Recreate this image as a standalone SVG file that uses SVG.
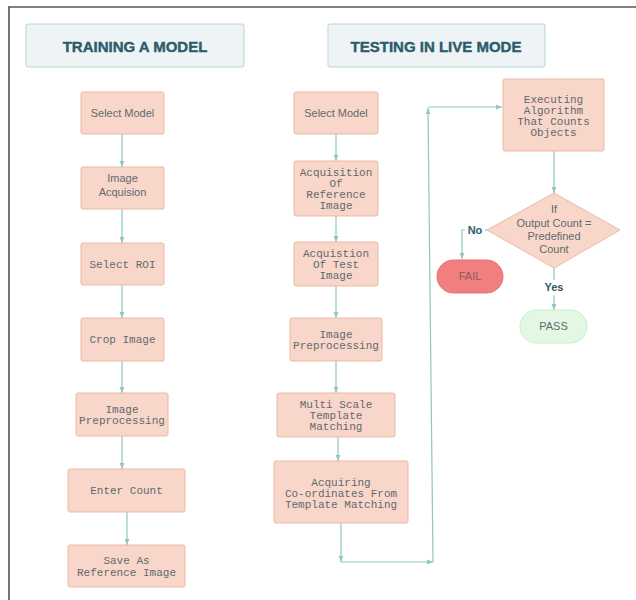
<svg xmlns="http://www.w3.org/2000/svg" width="636" height="600" viewBox="0 0 636 600">
<defs>
<marker id="ah" viewBox="0 0 10 10" refX="10" refY="5" markerWidth="6" markerHeight="6" markerUnits="userSpaceOnUse" orient="auto">
<path d="M0,1 L10,5 L0,9 Z" fill="#8fc7c1"/>
</marker>
<style>
.title{fill:#eef4f5;stroke:#b5d6d2;stroke-width:1}
.tt{font-family:"Liberation Sans",Arial,sans-serif;font-weight:bold;font-size:15px;fill:#2d5b6b;stroke:#2d5b6b;stroke-width:0.4;text-anchor:middle}
.box{fill:#f9d6ca;stroke:#ecb7a6;stroke-width:1}
.s{font-family:"Liberation Sans",Arial,sans-serif;font-size:11px;fill:#5e6a6e;text-anchor:middle}
.m{font-family:"Liberation Mono","Courier New",monospace;font-size:11px;fill:#5e6a6e;text-anchor:middle}
.c{fill:none;stroke:#8fc7c1;stroke-width:1.2}
.lbl{font-family:"Liberation Sans",Arial,sans-serif;font-weight:bold;font-size:11px;fill:#2d5b6b;text-anchor:middle}
</style>
</defs>
<rect width="636" height="600" fill="#ffffff"/>
<g id="frame">
<line x1="8" y1="7" x2="636" y2="7" stroke="#555" stroke-width="1.6"/>
<line x1="9" y1="7" x2="9" y2="600" stroke="#666" stroke-width="1.8"/>
</g>
<g id="connectors">
<line class="c" x1="122" y1="134" x2="122" y2="167" marker-end="url(#ah)"/>
<line class="c" x1="122" y1="209" x2="122" y2="243" marker-end="url(#ah)"/>
<line class="c" x1="122" y1="285" x2="122" y2="318" marker-end="url(#ah)"/>
<line class="c" x1="122" y1="361" x2="122" y2="393" marker-end="url(#ah)"/>
<line class="c" x1="122" y1="436" x2="122" y2="469" marker-end="url(#ah)"/>
<line class="c" x1="127" y1="512" x2="127" y2="545" marker-end="url(#ah)"/>
<line class="c" x1="336" y1="134" x2="336" y2="161" marker-end="url(#ah)"/>
<line class="c" x1="336" y1="216" x2="336" y2="242" marker-end="url(#ah)"/>
<line class="c" x1="336" y1="286" x2="336" y2="318" marker-end="url(#ah)"/>
<line class="c" x1="336" y1="361" x2="336" y2="393" marker-end="url(#ah)"/>
<line class="c" x1="338" y1="437" x2="338" y2="461" marker-end="url(#ah)"/>
<line class="c" x1="341" y1="523" x2="341" y2="562" marker-end="url(#ah)"/>
<line class="c" x1="341" y1="562" x2="433" y2="562" marker-end="url(#ah)"/>
<line class="c" x1="433" y1="562" x2="428" y2="108" marker-end="url(#ah)"/>
<line class="c" x1="428" y1="107" x2="502" y2="107" marker-end="url(#ah)"/>
<line class="c" x1="554" y1="151" x2="554" y2="193" marker-end="url(#ah)"/>
<polyline class="c" points="487,230 462,230 462,259" marker-end="url(#ah)"/>
<line class="c" x1="554" y1="268" x2="554" y2="310" marker-end="url(#ah)"/>
<rect x="465" y="222" width="20" height="15" fill="#ffffff"/>
<text class="lbl" x="475" y="234">No</text>
<rect x="542" y="280" width="24" height="15" fill="#ffffff"/>
<text class="lbl" x="554" y="291">Yes</text>
</g>
<g id="title-training">
<rect class="title" x="26" y="24" width="218" height="43" rx="2"/>
<text class="tt" x="135" y="52">TRAINING A MODEL</text>
</g>
<g id="title-testing">
<rect class="title" x="328" y="24" width="217" height="43" rx="2"/>
<text class="tt" x="436" y="52">TESTING IN LIVE MODE</text>
</g>
<g id="t-select-model">
<rect class="box" x="81" y="92" width="83" height="42" rx="2"/>
<text class="s" x="122.5" y="117">Select Model</text>
</g>
<g id="t-image-acquision">
<rect class="box" x="81" y="167" width="83" height="42" rx="2"/>
<text class="s" x="122.5" y="182">Image</text>
<text class="s" x="122.5" y="196">Acquision</text>
</g>
<g id="t-select-roi">
<rect class="box" x="81" y="243" width="83" height="42" rx="2"/>
<text class="m" x="122.5" y="268">Select ROI</text>
</g>
<g id="t-crop-image">
<rect class="box" x="81" y="318" width="83" height="43" rx="2"/>
<text class="m" x="122.5" y="343">Crop Image</text>
</g>
<g id="t-image-preprocessing">
<rect class="box" x="76" y="393" width="92" height="43" rx="2"/>
<text class="m" x="122" y="413">Image</text>
<text class="m" x="122" y="424">Preprocessing</text>
</g>
<g id="t-enter-count">
<rect class="box" x="68" y="469" width="117" height="43" rx="2"/>
<text class="m" x="126.5" y="494">Enter Count</text>
</g>
<g id="t-save-reference">
<rect class="box" x="68" y="545" width="117" height="42" rx="2"/>
<text class="m" x="126.5" y="564">Save As</text>
<text class="m" x="126.5" y="576">Reference Image</text>
</g>
<g id="l-select-model">
<rect class="box" x="294" y="92" width="84" height="42" rx="2"/>
<text class="s" x="336" y="117">Select Model</text>
</g>
<g id="l-acq-reference">
<rect class="box" x="294" y="161" width="84" height="55" rx="2"/>
<text class="m" x="336" y="176">Acquisition</text>
<text class="m" x="336" y="187">Of</text>
<text class="m" x="336" y="198">Reference</text>
<text class="m" x="336" y="209">Image</text>
</g>
<g id="l-acq-test">
<rect class="box" x="294" y="242" width="84" height="44" rx="2"/>
<text class="m" x="336" y="257">Acquistion</text>
<text class="m" x="336" y="268">Of Test</text>
<text class="m" x="336" y="279">Image</text>
</g>
<g id="l-image-preprocessing">
<rect class="box" x="290" y="318" width="92" height="43" rx="2"/>
<text class="m" x="336" y="338">Image</text>
<text class="m" x="336" y="349">Preprocessing</text>
</g>
<g id="l-multi-scale">
<rect class="box" x="277" y="393" width="118" height="44" rx="2"/>
<text class="m" x="336" y="408">Multi Scale</text>
<text class="m" x="336" y="419">Template</text>
<text class="m" x="336" y="430">Matching</text>
</g>
<g id="l-acquiring-coords">
<rect class="box" x="274" y="461" width="134" height="62" rx="2"/>
<text class="m" x="341" y="486">Acquiring</text>
<text class="m" x="341" y="497">Co-ordinates From</text>
<text class="m" x="341" y="508">Template Matching</text>
</g>
<g id="l-executing">
<rect class="box" x="503" y="79" width="101" height="72" rx="2"/>
<text class="m" x="553.5" y="103">Executing</text>
<text class="m" x="553.5" y="114">Algorithm</text>
<text class="m" x="553.5" y="125">That Counts</text>
<text class="m" x="553.5" y="136">Objects</text>
</g>
<g id="l-decision">
<polygon class="box" points="554,193 620,230 554,268 487,230"/>
<text class="s" x="554" y="213">If</text>
<text class="s" x="554" y="227">Output Count =</text>
<text class="s" x="554" y="240">Predefined</text>
<text class="s" x="554" y="253">Count</text>
</g>
<g id="l-fail">
<rect x="437" y="260" width="66" height="33" rx="16.5" fill="#f17f7f" stroke="#e87070"/>
<text class="s" x="470" y="280" style="fill:#8d5a66">FAIL</text>
</g>
<g id="l-pass">
<rect x="520" y="310" width="67" height="33" rx="16.5" fill="#e3f7e3" stroke="#cdeccd"/>
<text class="s" x="553.5" y="330">PASS</text>
</g>
</svg>
